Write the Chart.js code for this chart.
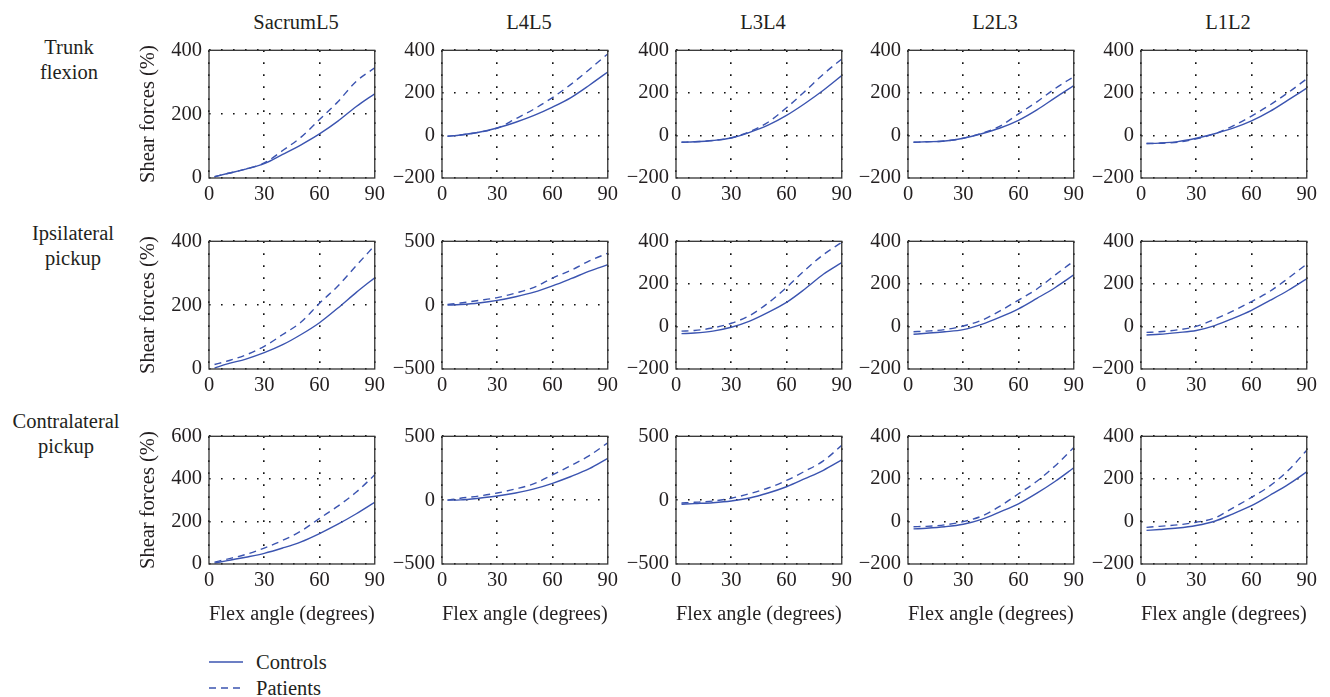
<!DOCTYPE html>
<html>
<head>
<meta charset="utf-8">
<script src="https://cdn.jsdelivr.net/npm/chart.js@4.4.1/dist/chart.umd.min.js"></script>
<style>
  body { margin: 0; background: #fff; width: 1330px; height: 697px; position: relative; overflow: hidden;
         font-family: "Liberation Serif", "Times New Roman", serif; color: #231f20; }
  canvas { position: absolute; }
  .lbl { position: absolute; font-size: 20.5px; line-height: 25px; text-align: center;
         transform: translate(-50%, -50%); white-space: nowrap; }
  #legend { position: absolute; left: 209px; top: 649px; font-size: 20.5px; }
  #legend div { height: 26px; display: flex; align-items: center; }
  #legend svg { margin-right: 13px; }
</style>
</head>
<body>
<div id="legend">
  <div><svg width="34" height="4"><line x1="0" y1="2" x2="34" y2="2" stroke="#3b54b0" stroke-width="1.4"/></svg>Controls</div>
  <div><svg width="34" height="4"><line x1="0" y1="2" x2="34" y2="2" stroke="#3b54b0" stroke-width="1.4" stroke-dasharray="7 5"/></svg>Patients</div>
</div>
<script>
// ── Data ──────────────────────────────────────────────
const flexAngles = [3, 10, 20, 30, 40, 50, 60, 70, 80, 90];
const levels = ['SacrumL5', 'L4L5', 'L3L4', 'L2L3', 'L1L2'];
const tasks  = [['Trunk', 'flexion'], ['Ipsilateral', 'pickup'], ['Contralateral', 'pickup']];

// [min, max, step] per panel
const trunkRanges  = [[0, 400, 200], [-200, 400, 200], [-200, 400, 200], [-200, 400, 200], [-200, 400, 200]];
const ipsiRanges   = [[0, 400, 200], [-500, 500, 500], [-200, 400, 200], [-200, 400, 200], [-200, 400, 200]];
const contraRanges = [[0, 600, 200], [-500, 500, 500], [-500, 500, 500], [-200, 400, 200], [-200, 400, 200]];

const trunkControls = [
  [4, 14, 28, 45, 74, 104, 138, 178, 224, 264],
  [-4, 2, 15, 35, 62, 94, 133, 178, 236, 298],
  [-32, -30, -24, -12, 14, 48, 94, 150, 212, 281],
  [-32, -30, -26, -13, 8, 35, 71, 120, 178, 234],
  [-38, -36, -29, -13, 8, 34, 68, 113, 167, 222],
];
const trunkPatients = [
  [4, 14, 28, 47, 86, 128, 183, 239, 303, 345],
  [-4, 2, 15, 35, 78, 124, 178, 240, 310, 383],
  [-32, -30, -24, -11, 18, 62, 130, 207, 288, 359],
  [-32, -30, -26, -13, 10, 44, 101, 158, 221, 276],
  [-38, -37, -32, -16, 8, 45, 91, 143, 202, 266],
];
const ipsiControls = [
  [3, 16, 31, 51, 76, 108, 145, 191, 240, 286],
  [0, 5, 17, 37, 66, 102, 151, 207, 266, 317],
  [-34, -31, -22, -4, 25, 66, 113, 176, 245, 300],
  [-37, -32, -25, -15, 10, 44, 83, 132, 183, 242],
  [-40, -37, -29, -19, 4, 38, 76, 122, 170, 224],
];
const ipsiPatients = [
  [14, 25, 44, 71, 108, 147, 206, 260, 324, 387],
  [5, 17, 37, 59, 95, 139, 212, 273, 346, 407],
  [-22, -19, -7, 15, 51, 110, 183, 264, 337, 395],
  [-25, -22, -15, 2, 29, 73, 124, 176, 242, 307],
  [-28, -25, -16, 0, 34, 73, 117, 165, 227, 293],
];
const contraControls = [
  [4, 16, 32, 50, 75, 104, 143, 187, 236, 290],
  [0, 2, 15, 32, 56, 88, 132, 185, 246, 327],
  [-32, -27, -20, -7, 17, 56, 105, 168, 234, 315],
  [-35, -32, -25, -13, 10, 45, 83, 133, 189, 252],
  [-42, -38, -31, -19, 1, 36, 74, 123, 174, 233],
];
const contraPatients = [
  [9, 23, 45, 75, 111, 155, 214, 272, 338, 419],
  [0, 15, 32, 56, 88, 129, 198, 271, 349, 449],
  [-22, -17, -7, 15, 51, 95, 154, 227, 307, 429],
  [-25, -23, -16, -1, 25, 72, 130, 189, 262, 347],
  [-28, -23, -16, -4, 16, 64, 113, 167, 240, 335],
];

const rows = [
  { ctrl: trunkControls,  pat: trunkPatients,  ranges: trunkRanges },
  { ctrl: ipsiControls,   pat: ipsiPatients,   ranges: ipsiRanges },
  { ctrl: contraControls, pat: contraPatients, ranges: contraRanges },
];

// ── Layout ────────────────────────────────────────────
const colLeft = [209, 442, 676, 908, 1141];
const rowTop  = [43, 234, 429];
const PLOT_W = 168, PLOT_H = 135;
const PAD_L = 75, PAD_T = 12, PAD_R = 12;
const LINE = '#3b54b0';
const FONT = { family: '"Liberation Serif", "Times New Roman", serif', size: 20.5 };

function label(text, x, y) {
  const d = document.createElement('div');
  d.className = 'lbl';
  d.style.left = x + 'px';
  d.style.top = y + 'px';
  d.innerHTML = text;
  document.body.appendChild(d);
}

levels.forEach((lv, c) => label(lv, colLeft[c] + 87, 22));
label(tasks[0].join('<br>'), 69, 60);
label(tasks[1].join('<br>'), 73, 246);
label(tasks[2].join('<br>'), 66, 434);

const framePlugin = {
  id: 'frame',
  afterDraw(chart) {
    const { ctx, chartArea: a } = chart;
    ctx.save();
    ctx.strokeStyle = '#333';
    ctx.lineWidth = 1.3;
    ctx.strokeRect(a.left, a.top, a.right - a.left, a.bottom - a.top);
    ctx.restore();
  },
};

const fmtTick = v => (v < 0 ? '\u2212' + Math.abs(v) : String(v));

rows.forEach((row, r) => {
  levels.forEach((lv, c) => {
    const lastRow = r === rows.length - 1;
    const bottomSpace = lastRow ? 70 : 30;
    const cv = document.createElement('canvas');
    cv.width = PAD_L + PLOT_W + PAD_R;
    cv.height = PAD_T + PLOT_H + bottomSpace;
    cv.style.left = (colLeft[c] - PAD_L) + 'px';
    cv.style.top = (rowTop[r] - PAD_T) + 'px';
    document.body.appendChild(cv);

    const [yMin, yMax, yStep] = row.ranges[c];
    const pts = arr => flexAngles.map((x, i) => ({ x, y: arr[i] }));

    new Chart(cv, {
      type: 'line',
      data: {
        datasets: [
          { label: 'Controls', data: pts(row.ctrl[c]), borderColor: LINE, borderWidth: 1.4 },
          { label: 'Patients', data: pts(row.pat[c]), borderColor: LINE, borderWidth: 1.4, borderDash: [7, 5] },
        ],
      },
      options: {
        responsive: false,
        animation: false,
        layout: { padding: { left: 0, top: PAD_T, right: PAD_R, bottom: 0 } },
        elements: { point: { radius: 0 }, line: { cubicInterpolationMode: 'monotone', fill: false } },
        plugins: { legend: { display: false }, tooltip: { enabled: false } },
        scales: {
          x: {
            type: 'linear', min: 0, max: 90,
            ticks: { stepSize: 30, padding: 4, color: '#231f20', font: FONT },
            grid: { color: '#111', lineWidth: 1.6, drawTicks: false },
            border: { display: false, dash: [1.6, 10.4] },
            title: { display: lastRow, text: 'Flex angle (degrees)', color: '#231f20', font: FONT, padding: { top: 0, bottom: 7 } },
            afterFit: s => { s.height = bottomSpace; },
          },
          y: {
            min: yMin, max: yMax,
            ticks: { stepSize: yStep, padding: 7, color: '#231f20', font: FONT, callback: fmtTick },
            grid: { color: '#111', lineWidth: 1.6, drawTicks: false },
            border: { display: false, dash: [1.6, 10.4] },
            title: { display: c === 0, text: 'Shear forces (%)', color: '#231f20', font: FONT, padding: { top: 2, bottom: 0 } },
            afterFit: s => { s.width = PAD_L; },
          },
        },
      },
      plugins: [framePlugin],
    });
  });
});
</script>
</body>
</html>
